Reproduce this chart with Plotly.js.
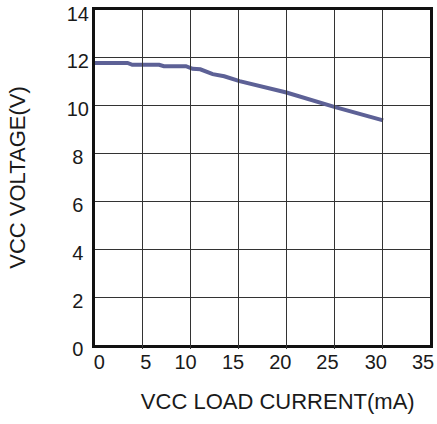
<!DOCTYPE html>
<html><head><meta charset="utf-8">
<script src="https://cdn.plot.ly/plotly-3.0.1.min.js"></script>
<style>html,body{margin:0;padding:0;background:#fff}#c{width:437px;height:424px}</style>
</head><body><div id="c"></div>
<script>
const loadCurrent = [0, 3.4, 3.9, 6.7, 7.2, 9.5, 10.2, 11.0, 12.3, 13.5, 15.1, 20.0, 25.0, 30.1];
const vccVoltage = [11.79, 11.79, 11.71, 11.71, 11.65, 11.65, 11.54, 11.52, 11.32, 11.23, 11.03, 10.55, 9.95, 9.39];
const xTicks = [0, 5, 10, 15, 20, 25, 30, 35];
const xTickLabels = ['0', '5', '10', '15', '20', '25', '30', '35'];
const yTicks = [0, 2, 4, 6, 8, 10, 12, 14];
const yTickLabels = ['0', '2', '4', '6', '8', '10', '12', '14'];

// label placement (layout only): labels in the original sit slightly off their gridlines
const xLabelOffset = [0.45, 0.31, -0.54, -0.58, -0.64, -0.71, -0.66, -0.73];
const xLabelPos = xTicks.map((v, i) => v + xLabelOffset[i]);
const yLabelText = yTickLabels.map(t => t.length === 1 ? t + '\u00a0' : t);

const tickFont = {family: 'Liberation Sans, Arial, sans-serif', size: 20, color: '#1a1a1a'};
const titleFont = {family: 'Liberation Sans, Arial, sans-serif', size: 22, color: '#1a1a1a'};
const pad = '\u200b\u00a0\u00a0\u00a0\u00a0\u00a0';
const H = 344; // plot-area height in px (t=10, b=70)
const ghost = {line: {color: 'rgba(0,0,0,0)', width: 0}, hoverinfo: 'skip', showlegend: false, mode: 'lines'};

Plotly.newPlot('c', [
   Object.assign({x: loadCurrent, y: vccVoltage, xaxis: 'x2', yaxis: 'y'}, ghost),
   Object.assign({x: loadCurrent, y: vccVoltage, xaxis: 'x', yaxis: 'y2'}, ghost),
  {
  x: loadCurrent, y: vccVoltage, mode: 'lines',
  line: {color: '#5d6196', width: 4}, hoverinfo: 'skip'
}], {
  width: 437, height: 424,
  margin: {l: 95, r: 7, t: 10, b: 70},
  paper_bgcolor: '#fff', plot_bgcolor: 'rgba(0,0,0,0)',
  showlegend: false, font: tickFont,
  xaxis: {range: [0, 35], tickvals: xTicks, showticklabels: false,
    showgrid: true, gridcolor: '#333', gridwidth: 1, zeroline: false,
    showline: true, linecolor: '#111', linewidth: 3, mirror: true,
    ticks: '',
    title: {text: pad + 'VCC LOAD CURRENT(mA)', font: titleFont, standoff: 47}},
  xaxis2: {range: [0, 35], overlaying: 'x', anchor: 'y', side: 'bottom',
    tickvals: xLabelPos, ticktext: xTickLabels, tickfont: tickFont,
    showgrid: false, zeroline: false, showline: false, ticks: '',
    ticklabelstandoff: 3},
  yaxis: {range: [0, 14], domain: [9 / H, 1], tickvals: yTicks, showticklabels: false,
    showgrid: true, gridcolor: '#333', gridwidth: 1, zeroline: false,
    showline: true, linecolor: '#111', linewidth: 3, mirror: true,
    ticks: '',
    title: {text: 'VCC VOLTAGE(V)', font: titleFont, standoff: 61}},
  yaxis2: {range: [0, 14], domain: [5.5 / H, 340.5 / H], anchor: 'free', position: 0, side: 'left',
    tickvals: yTicks, ticktext: yLabelText, tickfont: tickFont,
    showgrid: false, zeroline: false, showline: false, ticks: '',
    ticklabelstandoff: 6}
}, {displayModeBar: false, staticPlot: true});
</script></body></html>
